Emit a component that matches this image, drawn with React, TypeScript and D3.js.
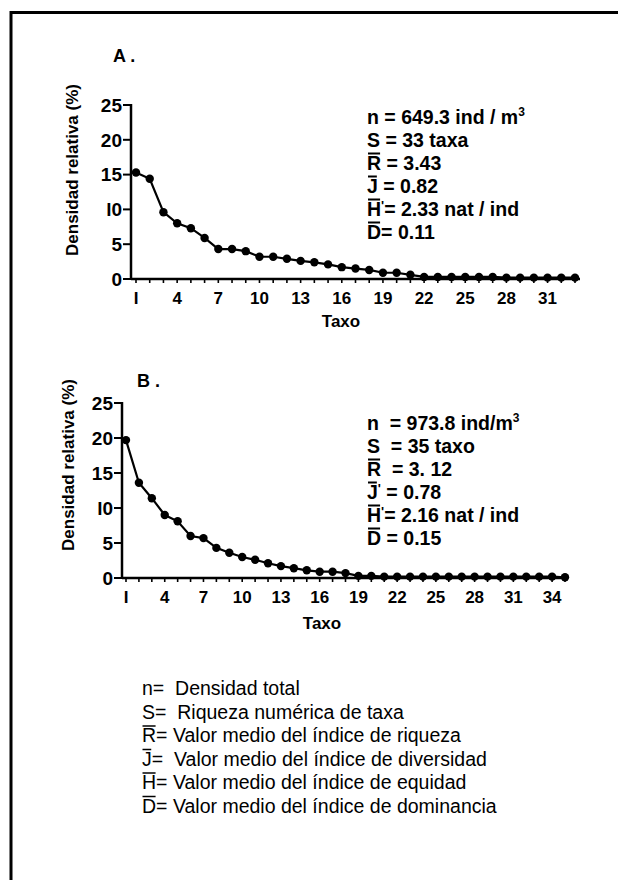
import React from 'react';
import * as d3 from 'd3';

const taxaA = [1,2,3,4,5,6,7,8,9,10,11,12,13,14,15,16,17,18,19,20,21,22,23,24,25,26,27,28,29,30,31,32,33];
const valuesA = [15.3, 14.4, 9.6, 8.0, 7.3, 5.9, 4.3, 4.3, 4.0, 3.2, 3.2, 2.9, 2.6, 2.4, 2.1, 1.7, 1.5, 1.3, 0.9, 0.9, 0.6, 0.3, 0.3, 0.3, 0.3, 0.3, 0.3, 0.2, 0.2, 0.2, 0.2, 0.2, 0.2];
const xTicksA = [1, 4, 7, 10, 13, 16, 19, 22, 25, 28, 31];

const taxaB = [1,2,3,4,5,6,7,8,9,10,11,12,13,14,15,16,17,18,19,20,21,22,23,24,25,26,27,28,29,30,31,32,33,34,35];
const valuesB = [19.7, 13.6, 11.4, 9.0, 8.1, 6.0, 5.7, 4.3, 3.6, 3.0, 2.6, 2.1, 1.7, 1.4, 1.1, 0.9, 0.9, 0.7, 0.3, 0.3, 0.2, 0.2, 0.2, 0.2, 0.2, 0.2, 0.2, 0.2, 0.2, 0.2, 0.2, 0.2, 0.2, 0.2, 0.1];
const xTicksB = [1, 4, 7, 10, 13, 16, 19, 22, 25, 28, 31, 34];

const yTicks = [0, 5, 10, 15, 20, 25];

type Stat = { sym: string; over: boolean; prime?: boolean; eq: string; value: string; sup?: string };

const statsA: Stat[] = [
  { sym: 'n', over: false, eq: ' = ', value: '649.3 ind / m', sup: '3' },
  { sym: 'S', over: false, eq: ' = ', value: '33 taxa' },
  { sym: 'R', over: true, eq: ' = ', value: '3.43' },
  { sym: 'J', over: true, eq: ' = ', value: '0.82' },
  { sym: 'H', over: true, prime: true, eq: '= ', value: '2.33 nat / ind' },
  { sym: 'D', over: true, eq: '= ', value: '0.11' },
];
const statsB: Stat[] = [
  { sym: 'n', over: false, eq: '  = ', value: '973.8 ind/m', sup: '3' },
  { sym: 'S', over: false, eq: '  = ', value: '35 taxo' },
  { sym: 'R', over: true, eq: '  = ', value: '3. 12' },
  { sym: 'J', over: true, prime: true, eq: ' = ', value: '0.78' },
  { sym: 'H', over: true, prime: true, eq: '= ', value: '2.16 nat / ind' },
  { sym: 'D', over: true, eq: ' = ', value: '0.15' },
];

const legendSyms = ['n', 'S', 'R', 'J', 'H', 'D'];
const legendOver = [false, false, true, true, true, true];
const legendTexts = [
  '  Densidad total',
  '  Riqueza numérica de taxa',
  ' Valor medio del índice de riqueza',
  '  Valor medio del índice de diversidad',
  ' Valor medio del índice de equidad',
  ' Valor medio del índice de dominancia',
];

const FONT = '"Liberation Sans", Arial, sans-serif';

let ctx: CanvasRenderingContext2D | null = null;
function textWidth(txt: string, size: number, bold: boolean): number {
  if (!ctx) ctx = document.createElement('canvas').getContext('2d');
  if (!ctx) return size * 0.7;
  ctx.font = `${bold ? 'bold ' : ''}${size}px "Liberation Sans", Arial, sans-serif`;
  return ctx.measureText(txt).width;
}

function Panel(props: {
  label: string; labelX: number; labelY: number;
  taxa: number[]; values: number[]; xTicks: number[];
  axisX: number; axisEnd: number; xr: [number, number];
  yTop: number; yBottom: number; yLabelX: number; yLabelY: number; taxoX: number; taxoY: number;
  stats: Stat[]; statX: number; statY: number; statStep: number;
}) {
  const { taxa, values } = props;
  const x = d3.scaleLinear().domain([taxa[0], taxa[taxa.length - 1]]).range(props.xr);
  const y = d3.scaleLinear().domain([0, 25]).range([props.yBottom, props.yTop]);
  const line = d3.line<number>().x((_, i) => x(taxa[i])).y((d) => y(d));
  const fs = 19.5;
  return (
    <g fontFamily={FONT} fontWeight="bold" fill="#000">
      <text x={props.labelX} y={props.labelY} fontSize={18}>{props.label}</text>
      {/* y axis */}
      <line x1={props.axisX} x2={props.axisX} y1={y(25) - 1} y2={y(0) + 1} stroke="#000" strokeWidth={2.5} />
      {yTicks.map((t) => (
        <g key={t}>
          <line x1={props.axisX - 8} x2={props.axisX} y1={y(t)} y2={y(t)} stroke="#000" strokeWidth={2} />
          <text x={props.axisX - 9} y={y(t)} dy="0.36em" textAnchor="end" fontSize={19}>{t === 10 ? 'l0' : String(t)}</text>
        </g>
      ))}
      {/* x axis */}
      <line x1={props.axisX} x2={props.axisEnd} y1={y(0)} y2={y(0)} stroke="#000" strokeWidth={2.5} />
      {taxa.map((t) => (
        <line key={t} x1={x(t)} x2={x(t)} y1={y(0)} y2={y(0) + 4} stroke="#000" strokeWidth={1.6} />
      ))}
      {props.xTicks.map((t) => (
        <text key={t} x={x(t)} y={y(0) + 25} textAnchor="middle" fontSize={17}>{t === 1 ? 'I' : String(t)}</text>
      ))}
      <text x={props.taxoX} y={props.taxoY} textAnchor="middle" fontSize={17}>Taxo</text>
      <text transform={`translate(${props.yLabelX},${props.yLabelY}) rotate(-90)`} textAnchor="middle" fontSize={17}>Densidad relativa (%)</text>
      {/* series */}
      <path d={line(values) || ''} fill="none" stroke="#000" strokeWidth={2.2} />
      {values.map((v, i) => (
        <circle key={i} cx={x(taxa[i])} cy={y(v)} r={4.2} fill="#000" />
      ))}
      {/* stats */}
      {props.stats.map((s, i) => {
        const by = props.statY + i * props.statStep;
        return (
          <g key={i}>
            <text x={props.statX} y={by} fontSize={fs} xmlSpace="preserve">
              <tspan>{s.sym}</tspan>
              {s.prime ? <tspan fontSize={13} dy={-6}>'</tspan> : null}
              {s.prime ? <tspan dy={6}>{s.eq}</tspan> : <tspan>{s.eq}</tspan>}
              <tspan>{s.value}</tspan>
              {s.sup ? <tspan fontSize={12} dy={-8}>{s.sup}</tspan> : null}
            </text>
            {s.over ? (
              <line x1={props.statX + 1} x2={props.statX + textWidth(s.sym, fs, true) - 1} y1={by - 16.5} y2={by - 16.5} stroke="#000" strokeWidth={2} />
            ) : null}
          </g>
        );
      })}
    </g>
  );
}

export default function App() {
  const lfs = 19.5;
  return (
    <svg width={618} height={880} style={{ position: 'absolute', left: 0, top: 0, background: '#fff' }}>
      <rect x={0} y={0} width={618} height={880} fill="#fff" />
      {/* frame */}
      <line x1={11} x2={11} y1={11} y2={880} stroke="#000" strokeWidth={3} />
      <line x1={10} x2={618} y1={12.5} y2={12.5} stroke="#000" strokeWidth={3} />
      <Panel
        label="A ." labelX={113} labelY={62}
        taxa={taxaA} values={valuesA} xTicks={xTicksA}
        axisX={131} axisEnd={580} xr={[136, 575]}
        yTop={105} yBottom={279} yLabelX={78} yLabelY={170} taxoX={341} taxoY={327}
        stats={statsA} statX={367} statY={124} statStep={23}
      />
      <Panel
        label="B ." labelX={137} labelY={387}
        taxa={taxaB} values={valuesB} xTicks={xTicksB}
        axisX={122} axisEnd={568} xr={[126, 565]}
        yTop={403} yBottom={578} yLabelX={74} yLabelY={465} taxoX={322} taxoY={629}
        stats={statsB} statX={367} statY={430} statStep={23}
      />
      <g fontFamily={FONT} fontSize={lfs} fill="#000">
        {legendSyms.map((s, i) => {
          const by = 695 + i * 23.5;
          return (
            <g key={i}>
              <text x={142} y={by} xmlSpace="preserve">
                <tspan>{s}</tspan>
                <tspan>=</tspan>
                <tspan>{legendTexts[i]}</tspan>
              </text>
              {legendOver[i] ? (
                <line x1={142.5} x2={142 + textWidth(s, lfs, false) - 0.5} y1={by - 16} y2={by - 16} stroke="#000" strokeWidth={1.5} />
              ) : null}
            </g>
          );
        })}
      </g>
    </svg>
  );
}
